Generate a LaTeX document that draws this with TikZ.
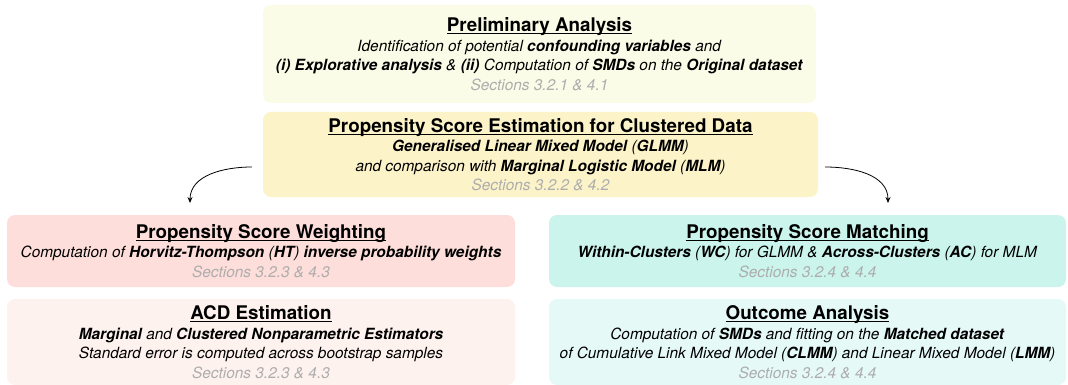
\documentclass[tikz,border=0pt]{standalone}
\usepackage{fontspec}
\setmainfont{TeX Gyre Heros}
\usetikzlibrary{arrows.meta}
\definecolor{cpa}{HTML}{FAFCE7}
\definecolor{cps}{HTML}{FCF3C9}
\definecolor{cpw}{HTML}{FDDEDA}
\definecolor{cacd}{HTML}{FEF2EE}
\definecolor{cpm}{HTML}{CAF4EC}
\definecolor{coa}{HTML}{E5F9F7}
\definecolor{csec}{HTML}{ADADAD}
\newsavebox{\ttlbox}
\newcommand{\boxtitle}[1]{{\fontsize{18.8}{20}\selectfont\bfseries
  \sbox{\ttlbox}{#1}\rlap{\rule[-2.6pt]{\wd\ttlbox}{1pt}}\usebox{\ttlbox}}}
\newcommand{\secline}[1]{{\color{csec}\itshape #1}}
\newcommand{\bi}[1]{\textbf{#1}}
\begin{document}
\begin{tikzpicture}[x=1pt,y=-1pt,
  box/.style={rounded corners=8pt, inner sep=0pt, align=center,
    font=\fontsize{15.4}{19.5}\selectfont},
  link/.style={-{Stealth[length=6pt,width=5pt]}, line width=0.8pt}]
\useasboundingbox (0,0) rectangle (1068,385);
\node[box, fill=cpa, minimum width=553pt, minimum height=98pt] (pa) at (539.5,54)
 {\boxtitle{Preliminary Analysis}\\
  \textit{Identification of potential \bi{confounding variables} and}\\
  \textit{\bi{(i) Explorative analysis} \& \bi{(ii)} Computation of \bi{SMDs} on the \bi{Original dataset}}\\
  \secline{Sections 3.2.1 \& 4.1}};
\node[box, fill=cps, minimum width=555pt, minimum height=85pt] (ps) at (540.5,154.5)
 {\boxtitle{Propensity Score Estimation for Clustered Data}\\
  \textit{\bi{Generalised Linear Mixed Model} (\bi{GLMM})}\\
  \textit{and comparison with \bi{Marginal Logistic Model} (\bi{MLM})}\\
  \secline{Sections 3.2.2 \& 4.2}};
\node[box, fill=cpw, minimum width=508pt, minimum height=72pt] (pw) at (261,251)
 {\boxtitle{Propensity Score Weighting}\\
  \textit{Computation of \bi{Horvitz-Thompson} (\bi{HT}) \bi{inverse probability weights}}\\
  \secline{Sections 3.2.3 \& 4.3}};
\node[box, fill=cpm, minimum width=517pt, minimum height=72pt] (pm) at (807.5,251)
 {\boxtitle{Propensity Score Matching}\\
  \textit{\bi{Within-Clusters} (\bi{WC}) for GLMM \& \bi{Across-Clusters} (\bi{AC}) for MLM}\\
  \secline{Sections 3.2.4 \& 4.4}};
\node[box, fill=cacd, minimum width=508pt, minimum height=86pt] (acd) at (261,342)
 {\boxtitle{ACD Estimation}\\
  \textit{\bi{Marginal} and \bi{Clustered Nonparametric Estimators}}\\
  \textit{Standard error is computed across bootstrap samples}\\
  \secline{Sections 3.2.3 \& 4.3}};
\node[box, fill=coa, minimum width=517pt, minimum height=86pt] (oa) at (807.5,342)
 {\boxtitle{Outcome Analysis}\\
  \textit{Computation of \bi{SMDs} and fitting on the \bi{Matched dataset}}\\
  \textit{of Cumulative Link Mixed Model (\bi{CLMM}) and Linear Mixed Model (\bi{LMM})}\\
  \secline{Sections 3.2.4 \& 4.4}};
\coordinate (ls) at ([xshift=-11pt,yshift=-12.5pt]ps.west);
\coordinate (le) at (190,203);
\coordinate (rs) at ([xshift=7pt,yshift=-12.5pt]ps.east);
\coordinate (re) at (888,203);
\draw[link] (ls) to[out=180,in=90] (le);
\draw[link] (rs) to[out=0,in=90] (re);
\end{tikzpicture}
\end{document}
